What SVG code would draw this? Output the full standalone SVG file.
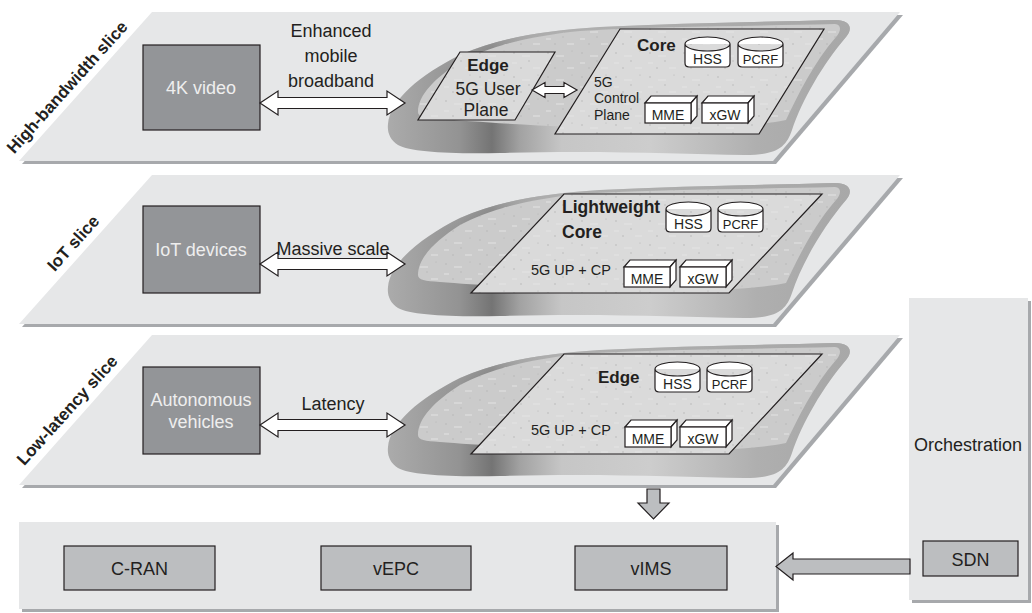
<svg xmlns="http://www.w3.org/2000/svg" xmlns:xlink="http://www.w3.org/1999/xlink" width="1032" height="613" viewBox="0 0 1032 613">
<style>
text{font-family:"Liberation Sans",Arial,sans-serif;fill:#231f20}
.big{font-size:18px}
.mid{font-size:17.5px}
.sm{font-size:14px}
.b{font-weight:bold;font-size:17px}
.wt{fill:#eeeeee;font-size:18px}
.c{text-anchor:middle}
.slice{fill:#e6e7e8}
.shadow{fill:#a7a9ac}
.dark{fill:#939598;stroke:#231f20;stroke-width:1.2}
.gbox{fill:#bcbec0;stroke:#231f20;stroke-width:1.2}
.plane{fill:#dadada;stroke:none}
.pedge{fill:none;stroke:#231f20;stroke-width:1.2}
.wh{fill:#ffffff;stroke:#231f20;stroke-width:1.2;stroke-linejoin:miter}
.garrow{fill:#bcbec0;stroke:#231f20;stroke-width:1.2}
</style>
<defs>
<linearGradient id="rim" gradientUnits="userSpaceOnUse" x1="385" y1="0" x2="850" y2="0">
<stop offset="0" stop-color="#acacac"/>
<stop offset="0.16" stop-color="#939393"/>
<stop offset="0.23" stop-color="#747474"/>
<stop offset="0.29" stop-color="#a2a2a2"/>
<stop offset="0.38" stop-color="#c6c6c6"/>
<stop offset="0.57" stop-color="#cdcdcd"/>
<stop offset="0.8" stop-color="#afafaf"/>
<stop offset="1" stop-color="#a6a6a6"/>
</linearGradient>
<linearGradient id="toprim" gradientUnits="userSpaceOnUse" x1="0" y1="20" x2="0" y2="70">
<stop offset="0" stop-color="#a9a9a9" stop-opacity="1"/>
<stop offset="1" stop-color="#a9a9a9" stop-opacity="0"/>
</linearGradient>
<pattern id="spk" width="34" height="24" patternUnits="userSpaceOnUse">
<circle cx="4" cy="5" r="0.7" fill="#b0b0b0"/>
<circle cx="19" cy="13" r="0.7" fill="#b4b4b4"/>
<circle cx="28" cy="3" r="0.6" fill="#b2b2b2"/>
<circle cx="11" cy="20" r="0.7" fill="#b1b1b1"/>
<path d="M12,8 h8 M2,15 h5 M23,20 h7" stroke="#e4e4e4" stroke-width="1.1"/>
</pattern>
<g id="blob">
<path fill="url(#rim)" d="M388,124 C390,100 420,75 460,55 C500,38 540,31 600,27 C680,23 760,22 835,20 C851,20 853,29 846,37 C823,64 802,100 792,130 C786,148 776,155 745,155 C680,154 600,150 500,153 C450,154 410,152 398,145 C390,140 387,132 388,124 Z"/>
<path fill="url(#toprim)" d="M388,124 C390,100 420,75 460,55 C500,38 540,31 600,27 C680,23 760,22 835,20 C851,20 853,29 846,37 C823,64 802,100 792,130 C786,148 776,155 745,155 C680,154 600,150 500,153 C450,154 410,152 398,145 C390,140 387,132 388,124 Z"/>
<path fill="#cbcbcb" d="M418,112 C418,95 435,78 460,62 C490,46 530,36 580,31 C660,26 760,26 835,24 C842,25 841,31 836,37 C814,62 798,95 786,120 C760,126 700,128 640,128 C560,128 480,122 440,119 C425,118 418,117 418,112 Z"/>
<path fill="url(#spk)" d="M418,112 C418,95 435,78 460,62 C490,46 530,36 580,31 C660,26 760,26 835,24 C842,25 841,31 836,37 C814,62 798,95 786,120 C760,126 700,128 640,128 C560,128 480,122 440,119 C425,118 418,117 418,112 Z"/>
</g>
<path id="cyl" d="M0,7 A22.5,7 0 0 1 45,7 L45,26 Q45,30 41,30 L4,30 Q0,30 0,26 Z M0,7 A22.5,7 0 0 0 45,7"/>
<g id="box">
<path d="M0,0 L6,-7 L52,-7 L46,0 Z"/>
<path d="M46,0 L52,-7 L52,13 L46,20 Z"/>
<rect x="0" y="0" width="46" height="20"/>
</g>
<path id="dbl" d="M0,0 L18,-12 L18,-5.5 L127,-5.5 L127,-12 L145,0 L127,12 L127,5.5 L18,5.5 L18,12 Z"/>
</defs>

<!-- Slice 1: High-bandwidth -->
<g id="slice-high">
<polygon class="shadow" points="155,15 903,15 776,164 22,164"/>
<polygon class="slice" points="152,12 900,12 773,161 19,161"/>
<use xlink:href="#blob"/>
<text class="b c" transform="translate(67,87) rotate(-48)" y="6">High-bandwidth slice</text>
</g>
<g id="node-4k">
<rect class="dark" x="143" y="45" width="117" height="85"/>
<text class="wt c" x="201" y="94">4K video</text>
</g>
<g id="node-edge-up">
<polygon class="plane" points="460,52 555,52 515,120 418,120"/>
<polygon fill="url(#spk)" points="460,52 555,52 515,120 418,120"/>
<polygon class="pedge" points="460,52 555,52 515,120 418,120"/>
<text class="b c" x="488" y="71">Edge</text>
<text class="mid c" x="488" y="95">5G User</text>
<text class="mid c" x="486" y="116">Plane</text>
</g>
<g id="node-core">
<polygon class="plane" points="620,29 824,29 759,134 555,134"/>
<polygon fill="url(#spk)" points="620,29 824,29 759,134 555,134"/>
<polygon class="pedge" points="620,29 824,29 759,134 555,134"/>
<text class="b" x="637" y="51">Core</text>
<text class="sm" x="594" y="87">5G</text>
<text class="sm" x="594" y="103">Control</text>
<text class="sm" x="594" y="120">Plane</text>
<use xlink:href="#cyl" class="wh" x="685" y="37"/>
<text class="sm c" x="707.5" y="64">HSS</text>
<use xlink:href="#cyl" class="wh" x="738" y="37"/>
<text class="sm c" x="760.5" y="64" style="font-size:13px">PCRF</text>
<use xlink:href="#box" class="wh" x="645" y="103"/>
<text class="sm c" x="668" y="120">MME</text>
<use xlink:href="#box" class="wh" x="702" y="103"/>
<text class="sm c" x="725" y="120">xGW</text>
</g>

<!-- Slice 2: IoT -->
<g id="slice-iot">
<polygon class="shadow" points="155,178 903,178 776,327 22,327"/>
<polygon class="slice" points="152,175 900,175 773,324 19,324"/>
<use xlink:href="#blob" transform="translate(0,163)"/>
<text class="b c" transform="translate(73,243) rotate(-48)" y="6">IoT slice</text>
</g>
<g id="node-iot">
<rect class="dark" x="143" y="206" width="117" height="87"/>
<text class="wt c" x="201" y="256">IoT devices</text>
</g>
<g id="node-lw-core">
<polygon class="plane" points="564,194 822,194 729,293 471,293"/>
<polygon fill="url(#spk)" points="564,194 822,194 729,293 471,293"/>
<polygon class="pedge" points="564,194 822,194 729,293 471,293"/>
<text class="b" x="562" y="213" style="font-size:17.5px">Lightweight</text>
<text class="b" x="562" y="238" style="font-size:17.5px">Core</text>
<use xlink:href="#cyl" class="wh" x="666" y="202"/>
<text class="sm c" x="688.5" y="229">HSS</text>
<use xlink:href="#cyl" class="wh" x="718" y="202"/>
<text class="sm c" x="740.5" y="229" style="font-size:13px">PCRF</text>
<text class="sm" x="531" y="275" style="font-size:14.5px">5G UP + CP</text>
<use xlink:href="#box" class="wh" x="624" y="267"/>
<text class="sm c" x="647" y="284">MME</text>
<use xlink:href="#box" class="wh" x="680" y="267"/>
<text class="sm c" x="703" y="284">xGW</text>
</g>

<!-- Slice 3: Low-latency -->
<g id="slice-low">
<polygon class="shadow" points="155,338 903,338 776,488 22,488"/>
<polygon class="slice" points="152,335 900,335 773,485 19,485"/>
<use xlink:href="#blob" transform="translate(0,323)"/>
<text class="b c" transform="translate(67,410) rotate(-48)" y="6">Low-latency slice</text>
</g>
<g id="node-auto">
<rect class="dark" x="143" y="367" width="117" height="87"/>
<text class="wt c" x="201" y="406">Autonomous</text>
<text class="wt c" x="201" y="428">vehicles</text>
</g>
<g id="node-edge">
<polygon class="plane" points="564,354 822,354 729,454 471,454"/>
<polygon fill="url(#spk)" points="564,354 822,354 729,454 471,454"/>
<polygon class="pedge" points="564,354 822,354 729,454 471,454"/>
<text class="b" x="598" y="383">Edge</text>
<use xlink:href="#cyl" class="wh" x="655" y="362"/>
<text class="sm c" x="677.5" y="389">HSS</text>
<use xlink:href="#cyl" class="wh" x="707" y="362"/>
<text class="sm c" x="729.5" y="389" style="font-size:13px">PCRF</text>
<text class="sm" x="531" y="435" style="font-size:14.5px">5G UP + CP</text>
<use xlink:href="#box" class="wh" x="625" y="427"/>
<text class="sm c" x="648" y="444">MME</text>
<use xlink:href="#box" class="wh" x="680" y="427"/>
<text class="sm c" x="703" y="444">xGW</text>
</g>

<!-- Infrastructure panel -->
<g id="infra">
<rect class="shadow" x="22" y="525" width="757" height="87"/>
<rect class="slice" x="19" y="522" width="757" height="87"/>
</g>
<g id="node-cran">
<rect class="gbox" x="64" y="546" width="151" height="44"/>
<text class="big c" x="139.5" y="575">C-RAN</text>
</g>
<g id="node-vepc">
<rect class="gbox" x="321" y="546" width="150" height="44"/>
<text class="big c" x="396" y="575">vEPC</text>
</g>
<g id="node-vims">
<rect class="gbox" x="575" y="546" width="152" height="44"/>
<text class="big c" x="651" y="575">vIMS</text>
</g>

<!-- Orchestration -->
<g id="orchestration">
<rect class="shadow" x="912" y="301" width="119" height="302"/>
<rect class="slice" x="909" y="298" width="119" height="302"/>
<text class="big c" x="968" y="451">Orchestration</text>
</g>
<g id="node-sdn">
<rect class="gbox" x="923" y="541" width="95" height="35"/>
<text class="big c" x="970.5" y="566">SDN</text>
</g>

<!-- Connectors -->
<g id="connectors">
<use xlink:href="#dbl" class="wh" transform="translate(260,103)"/>
<text class="big c" x="331" y="37">Enhanced</text>
<text class="big c" x="331" y="62">mobile</text>
<text class="big c" x="331" y="87">broadband</text>
<path class="wh" d="M532,90 L545,82.5 L545,86.5 L564,86.5 L564,82.5 L577,90 L564,97.5 L564,93.5 L545,93.5 L545,97.5 Z"/>
<use xlink:href="#dbl" class="wh" transform="translate(260,264)"/>
<text class="big c" x="333" y="255">Massive scale</text>
<use xlink:href="#dbl" class="wh" transform="translate(260,425)"/>
<text class="big c" x="333" y="410">Latency</text>
<polygon class="garrow" points="647,489 660,489 660,503 669,503 653.5,519 638,503 647,503"/>
<polygon class="garrow" points="910,559 793,559 793,553 776,566.5 793,580 793,574 910,574"/>
</g>
</svg>
